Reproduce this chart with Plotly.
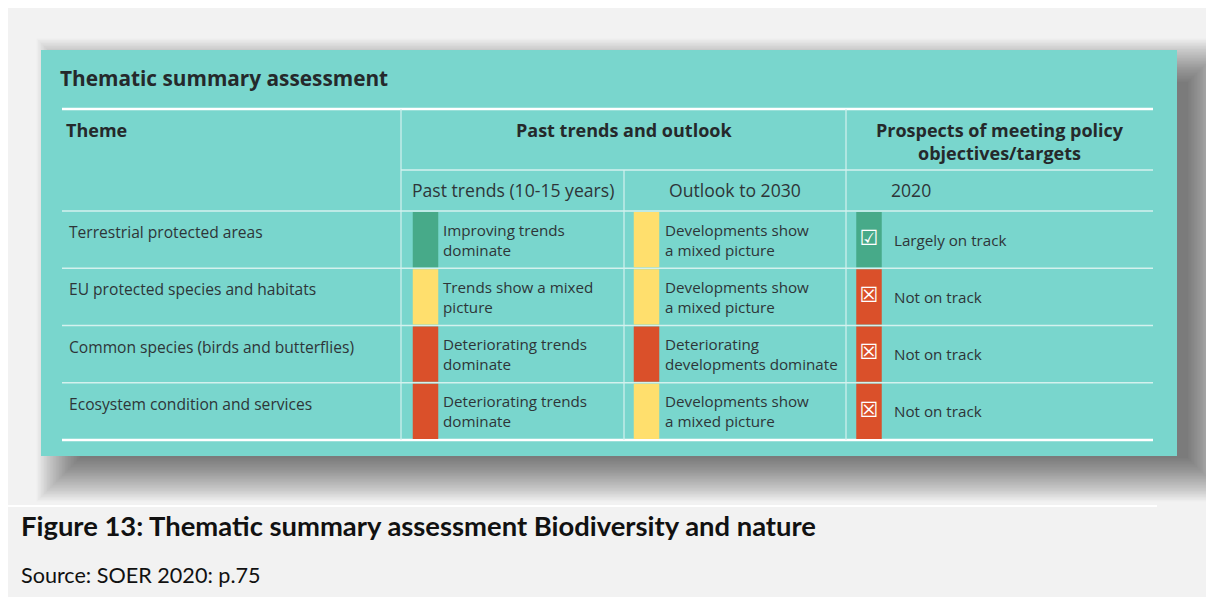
import plotly.graph_objects as go

# ---- data ----
themes = [
    "Terrestrial protected areas",
    "EU protected species and habitats",
    "Common species (birds and butterflies)",
    "Ecosystem condition and services",
]
past_status = ["improving", "mixed", "deteriorating", "deteriorating"]
past_text = [
    "Improving trends<br>dominate",
    "Trends show a mixed<br>picture",
    "Deteriorating trends<br>dominate",
    "Deteriorating trends<br>dominate",
]
outlook_status = ["mixed", "mixed", "deteriorating", "mixed"]
outlook_text = [
    "Developments show<br>a mixed picture",
    "Developments show<br>a mixed picture",
    "Deteriorating<br>developments dominate",
    "Developments show<br>a mixed picture",
]
prospect_status = ["improving", "deteriorating", "deteriorating", "deteriorating"]
prospect_text = ["Largely on track", "Not on track", "Not on track", "Not on track"]
prospect_icon = ["☑", "☒", "☒", "☒"]

status_colors = {"improving": "#47aa89", "mixed": "#ffdf6d", "deteriorating": "#da502a"}

# ---- layout constants (screen pixel space; page body has an 8px margin) ----
W, H = 1214, 597
OFF = 8
TEAL = "#79d6cd"
TXT = "#2e3538"
HEAD = "#25292b"
FONT = "Open Sans"
LINE_SOFT = "#d4f1ee"

panel = (41, 50, 1177, 456)
grid_x0, grid_x1 = 62, 1153
header_top, header_mid, header_bot = 109, 170, 211
row_h = 57.25
row_tops = [header_bot + i * row_h for i in range(len(themes))]
table_bot = header_bot + len(themes) * row_h
col_lines = [401, 624, 846]
bar_x = [425.5, 646.5, 869]
bar_w = 25.5
text_x = [444, 666, 895]

shapes = []
# soft drop shadow built from many stacked translucent rectangles
for k in range(30):
    shapes.append(dict(
        type="rect", x0=80 - 1.5 * k, x1=1188 + 1.5 * k, y0=82 - 1.5 * k, y1=458 + 1.5 * k,
        fillcolor="rgba(0,0,0,0.021)", line_width=0, layer="below",
    ))

# caption separator
shapes.append(dict(type="line", x0=8, x1=1157, y0=506, y1=506,
                   line=dict(color="white", width=2), layer="below"))

# teal panel
shapes.append(dict(type="rect", x0=panel[0], x1=panel[2], y0=panel[1], y1=panel[3],
                   fillcolor=TEAL, line_width=0, layer="below"))

# horizontal grid lines
shapes.append(dict(type="line", x0=grid_x0, x1=grid_x1, y0=header_top, y1=header_top,
                   line=dict(color="white", width=2.5), layer="below"))
shapes.append(dict(type="line", x0=col_lines[0], x1=grid_x1, y0=header_mid, y1=header_mid,
                   line=dict(color=LINE_SOFT, width=1.5), layer="below"))
for y in row_tops:
    shapes.append(dict(type="line", x0=grid_x0, x1=grid_x1, y0=y, y1=y,
                       line=dict(color=LINE_SOFT, width=1.5), layer="below"))
shapes.append(dict(type="line", x0=grid_x0, x1=grid_x1, y0=table_bot, y1=table_bot,
                   line=dict(color="white", width=2.5), layer="below"))

# vertical grid lines
shapes.append(dict(type="line", x0=col_lines[0], x1=col_lines[0], y0=header_top, y1=table_bot,
                   line=dict(color=LINE_SOFT, width=1.2), layer="below"))
shapes.append(dict(type="line", x0=col_lines[1], x1=col_lines[1], y0=header_mid, y1=table_bot,
                   line=dict(color=LINE_SOFT, width=1.2), layer="below"))
shapes.append(dict(type="line", x0=col_lines[2], x1=col_lines[2], y0=header_top, y1=table_bot,
                   line=dict(color=LINE_SOFT, width=1.2), layer="below"))

fig = go.Figure()

# coloured status bars
for cx, statuses in zip(bar_x, [past_status, outlook_status, prospect_status]):
    fig.add_trace(go.Bar(
        x=[cx] * len(statuses),
        base=[t + 1 for t in row_tops],
        y=[row_h - 2] * len(statuses),
        width=bar_w,
        marker=dict(color=[status_colors[s] for s in statuses], line_width=0),
        hoverinfo="skip",
        showlegend=False,
    ))

# check / cross icons
fig.add_trace(go.Scatter(
    x=[bar_x[2]] * len(prospect_icon),
    y=[t + row_h / 2 for t in row_tops],
    mode="text",
    text=prospect_icon,
    textfont=dict(family="DejaVu Sans", size=21, color="white"),
    hoverinfo="skip",
    showlegend=False,
))

ann = []


def label(x, y, text, size, bold=False, xanchor="left", color=TXT, family=FONT):
    if bold:
        text = f"<b>{text}</b>"
    ann.append(dict(x=x, y=y, xref="x", yref="y", text=text, showarrow=False,
                    xanchor=xanchor, yanchor="middle", align=xanchor, borderpad=0,
                    font=dict(family=family, size=size, color=color)))


label(59, 78, "Thematic summary assessment", 20.8, bold=True, color=HEAD)
label(65, 130, "Theme", 18, bold=True, color=HEAD)
label((col_lines[0] + col_lines[2]) / 2, 130, "Past trends and outlook", 18, bold=True,
      xanchor="center", color=HEAD)
label((col_lines[2] + grid_x1) / 2, 141, "Prospects of meeting policy<br>objectives/targets", 18,
      bold=True, xanchor="center", color=HEAD)
label((col_lines[0] + col_lines[1]) / 2, 190, "Past trends (10-15 years)", 17.6, xanchor="center")
label((col_lines[1] + col_lines[2]) / 2, 190, "Outlook to 2030", 17.6, xanchor="center")
label(890, 190, "2020", 17.6)

for i, top in enumerate(row_tops):
    mid = top + row_h / 2
    label(68, top + 21, themes[i], 15.6)
    label(text_x[0] - 2, mid, past_text[i], 15.2)
    label(text_x[1] - 2, mid, outlook_text[i], 15.2)
    label(text_x[2] - 2, mid, prospect_text[i], 15.2)

label(20, 525, "Figure 13: Thematic summary assessment Biodiversity and nature", 27.4, bold=True,
      color="#111111", family="Lato")
label(20, 575, "Source: SOER 2020: p.75", 21.6, color="#111111", family="Lato")

fig.update_layout(
    width=W - OFF, height=H - OFF,
    margin=dict(l=0, r=0, t=0, b=0),
    paper_bgcolor="#f2f2f2",
    plot_bgcolor="rgba(0,0,0,0)",
    barmode="overlay",
    shapes=shapes,
    annotations=ann,
    xaxis=dict(range=[OFF, W], visible=False, fixedrange=True),
    yaxis=dict(range=[H, OFF], visible=False, fixedrange=True),
)

fig.write_html("out.html", config={"displayModeBar": False})
